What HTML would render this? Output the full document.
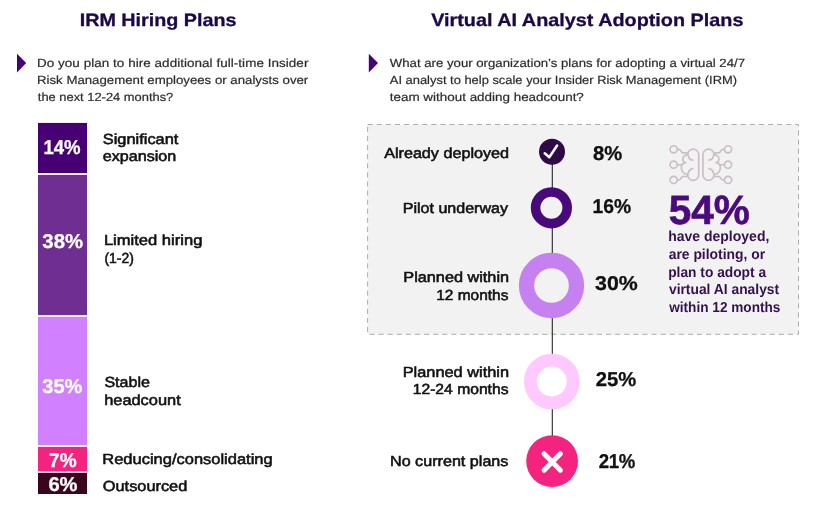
<!DOCTYPE html>
<html><head><meta charset="utf-8"><title>IRM Hiring Plans / Virtual AI Analyst Adoption Plans</title>
<style>
html,body{margin:0;padding:0;background:#fff;}
body{width:822px;height:506px;position:relative;overflow:hidden;font-family:"Liberation Sans",sans-serif;}
.t{position:absolute;left:0;top:0;white-space:nowrap;transform-origin:0 0;text-rendering:geometricPrecision;font-family:"Liberation Sans",sans-serif;}
.seg{position:absolute;left:38.1px;width:48.9px;}
svg{position:absolute;left:0;top:0;}
</style></head><body>
<!-- stacked bar -->
<div id="barbg" style="position:absolute;left:37.6px;top:121.6px;width:49.9px;height:372px;background:#f6ebfb;"></div>
<div class="seg" style="top:122.5px;height:50.4px;background:#460073;"></div>
<div class="seg" style="top:175.2px;height:139.65px;background:#6f2f92;"></div>
<div class="seg" style="top:316.6px;height:128.35px;background:#d180ff;"></div>
<div class="seg" style="top:446.95px;height:24.15px;background:#f42380;"></div>
<div style="position:absolute;left:37.2px;width:50.6px;top:471.3px;height:1.7px;background:#fbd0e4;"></div>
<div class="seg" style="top:473.2px;height:20.5px;background:#3a061e;"></div>
<svg width="822" height="506" viewBox="0 0 822 506">
  <!-- bullets -->
  <polygon points="17,53.8 26.2,63.1 17,72.4" fill="#46007a"/>
  <polygon points="368.8,53.8 378,63.1 368.8,72.4" fill="#46007a"/>
  <!-- dashed box -->
  <rect x="367.6" y="124.5" width="430.9" height="209.8" fill="#f2f2f2" stroke="#adadad" stroke-width="1" stroke-dasharray="5.1 4"/>
  <!-- connector -->
  <line x1="552.3" y1="152" x2="552.3" y2="461" stroke="#262626" stroke-width="1.1"/>
  <!-- circle 1 check -->
  <circle cx="552" cy="151.8" r="13" fill="#2e0a47"/>
  <polyline points="544.7,153.2 549.3,157.2 557.1,145.5" fill="none" stroke="#fff" stroke-width="2.5" stroke-linecap="round" stroke-linejoin="round"/>
  <!-- circle 2 -->
  <circle cx="551.4" cy="207.8" r="15.8" fill="#f2f2f2" stroke="#480a7a" stroke-width="9.6"/>
  <!-- circle 3 -->
  <circle cx="551.5" cy="285.5" r="25" fill="#f2f2f2" stroke="#c581f0" stroke-width="15.3"/>
  <!-- circle 4 -->
  <circle cx="551.8" cy="381.5" r="21.4" fill="#fff" stroke="#ffc8ff" stroke-width="12.8"/>
  <!-- circle 5 x -->
  <circle cx="552.1" cy="461.1" r="25.9" fill="#f4237f"/>
  <path d="M544.1 453.7 L560.4 470.2 M560.4 453.7 L544.1 470.2" stroke="#fff" stroke-width="5" stroke-linecap="round" fill="none"/>
  <!-- brain icon -->
  <g fill="none" stroke="#cbbec7" stroke-width="1.65" stroke-linecap="round" stroke-linejoin="round">
    <g id="bh"><path d="M698.75,174.79 L698.75,154.65 A5.55,5.55 0 0 0 687.65,154.65 C684.67,154.96 682.40,157.01 682.82,159.58 C683.02,161.43 684.25,162.46 685.69,162.67 C683.12,163.08 681.07,164.93 681.38,168.01 C681.58,171.40 684.15,173.97 687.65,174.79 A5.55,5.55 0 0 0 698.75,174.79 M687.95,153.42 C687.95,157.01 689.80,159.58 692.68,160.10 M692.68,168.63 C690.01,169.24 688.16,171.40 687.95,174.18 M677.47,149.31 L679.73,149.51 L682.40,152.90 L687.54,152.90 M677.47,164.72 L681.79,164.72 M677.47,179.93 L679.73,179.73 L682.40,176.54 L687.54,176.54"/><circle cx="673.67" cy="149.31" r="3.6"/><circle cx="673.67" cy="164.72" r="3.6"/><circle cx="673.67" cy="179.93" r="3.6"/></g>
    <g transform="translate(1401.71,0) scale(-1,1)"><path d="M698.75,174.79 L698.75,154.65 A5.55,5.55 0 0 0 687.65,154.65 C684.67,154.96 682.40,157.01 682.82,159.58 C683.02,161.43 684.25,162.46 685.69,162.67 C683.12,163.08 681.07,164.93 681.38,168.01 C681.58,171.40 684.15,173.97 687.65,174.79 A5.55,5.55 0 0 0 698.75,174.79 M687.95,153.42 C687.95,157.01 689.80,159.58 692.68,160.10 M692.68,168.63 C690.01,169.24 688.16,171.40 687.95,174.18 M677.47,149.31 L679.73,149.51 L682.40,152.90 L687.54,152.90 M677.47,164.72 L681.79,164.72 M677.47,179.93 L679.73,179.73 L682.40,176.54 L687.54,176.54"/><circle cx="673.67" cy="149.31" r="3.6"/><circle cx="673.67" cy="164.72" r="3.6"/><circle cx="673.67" cy="179.93" r="3.6"/></g>
  </g>
</svg>
<div id="txt" style="position:absolute;left:0;top:0;width:822px;height:506px;will-change:transform;">
<div class="t" style="font-size:17.8px;line-height:17.8px;font-weight:700;color:#1c0847;transform:matrix(1.1104,0,0,1,79.65,12);-webkit-text-stroke:0.3px #1c0847;">IRM Hiring Plans</div>
<div class="t" style="font-size:17.8px;line-height:17.8px;font-weight:700;color:#1c0847;transform:matrix(1.1140,0,0,1,431.20,12);-webkit-text-stroke:0.3px #1c0847;">Virtual AI Analyst Adoption Plans</div>
<div class="t" style="font-size:11.8px;line-height:11.8px;font-weight:400;color:#2b2b2b;transform:matrix(1.1400,0,0,1,37.00,58);letter-spacing:0.042px;-webkit-text-stroke:0.2px #2b2b2b;">Do you plan to hire additional full-time Insider</div>
<div class="t" style="font-size:11.8px;line-height:11.8px;font-weight:400;color:#2b2b2b;transform:matrix(1.1212,0,0,1,37.00,75);-webkit-text-stroke:0.2px #2b2b2b;">Risk Management employees or analysts over</div>
<div class="t" style="font-size:11.8px;line-height:11.8px;font-weight:400;color:#2b2b2b;transform:matrix(1.0931,0,0,1,37.80,92);-webkit-text-stroke:0.2px #2b2b2b;">the next 12-24 months?</div>
<div class="t" style="font-size:11.8px;line-height:11.8px;font-weight:400;color:#2b2b2b;transform:matrix(1.1176,0,0,1,389.80,58);-webkit-text-stroke:0.2px #2b2b2b;">What are your organization’s plans for adopting a virtual 24/7</div>
<div class="t" style="font-size:11.8px;line-height:11.8px;font-weight:400;color:#2b2b2b;transform:matrix(1.0942,0,0,1,389.80,75);-webkit-text-stroke:0.2px #2b2b2b;">AI analyst to help scale your Insider Risk Management (IRM)</div>
<div class="t" style="font-size:11.8px;line-height:11.8px;font-weight:400;color:#2b2b2b;transform:matrix(1.1379,0,0,1,389.80,92);-webkit-text-stroke:0.2px #2b2b2b;">team without adding headcount?</div>
<div class="t" style="font-size:20.0px;line-height:20.0px;font-weight:700;color:#ffffff;transform:matrix(0.9300,0,0,1,43.50,138);letter-spacing:-0.134px;-webkit-text-stroke:0.3px #ffffff;">14%</div>
<div class="t" style="font-size:20.0px;line-height:20.0px;font-weight:700;color:#ffffff;transform:matrix(1.0179,0,0,1,42.35,232);-webkit-text-stroke:0.3px #ffffff;">38%</div>
<div class="t" style="font-size:20.0px;line-height:20.0px;font-weight:700;color:#ffffff;transform:matrix(1.0000,0,0,1,42.35,377);-webkit-text-stroke:0.3px #ffffff;">35%</div>
<div class="t" style="font-size:20.0px;line-height:20.0px;font-weight:700;color:#ffffff;transform:matrix(0.9514,0,0,1,49.05,451);-webkit-text-stroke:0.3px #ffffff;">7%</div>
<div class="t" style="font-size:20.0px;line-height:20.0px;font-weight:700;color:#ffffff;transform:matrix(1.0072,0,0,1,48.40,475);-webkit-text-stroke:0.3px #ffffff;">6%</div>
<div class="t" style="font-size:14.6px;line-height:14.6px;font-weight:400;color:#111111;transform:matrix(1.1224,0,0,1,102.80,133);-webkit-text-stroke:0.55px #111111;">Significant</div>
<div class="t" style="font-size:14.6px;line-height:14.6px;font-weight:400;color:#111111;transform:matrix(1.1046,0,0,1,102.80,150);-webkit-text-stroke:0.55px #111111;">expansion</div>
<div class="t" style="font-size:14.6px;line-height:14.6px;font-weight:400;color:#111111;transform:matrix(1.1343,0,0,1,103.90,234);-webkit-text-stroke:0.55px #111111;">Limited hiring</div>
<div class="t" style="font-size:14.6px;line-height:14.6px;font-weight:400;color:#111111;transform:matrix(0.9544,0,0,1,104.40,252);-webkit-text-stroke:0.55px #111111;">(1-2)</div>
<div class="t" style="font-size:14.6px;line-height:14.6px;font-weight:400;color:#111111;transform:matrix(1.1006,0,0,1,104.40,376);-webkit-text-stroke:0.55px #111111;">Stable</div>
<div class="t" style="font-size:14.6px;line-height:14.6px;font-weight:400;color:#111111;transform:matrix(1.1233,0,0,1,104.15,394);-webkit-text-stroke:0.55px #111111;">headcount</div>
<div class="t" style="font-size:14.6px;line-height:14.6px;font-weight:400;color:#111111;transform:matrix(1.1290,0,0,1,102.30,453);-webkit-text-stroke:0.55px #111111;">Reducing/consolidating</div>
<div class="t" style="font-size:14.6px;line-height:14.6px;font-weight:400;color:#111111;transform:matrix(1.1192,0,0,1,102.80,480);-webkit-text-stroke:0.55px #111111;">Outsourced</div>
<div class="t" style="font-size:14.6px;line-height:14.6px;font-weight:400;color:#111111;transform:matrix(1.1071,0,0,1,384.15,147);-webkit-text-stroke:0.55px #111111;">Already deployed</div>
<div class="t" style="font-size:14.6px;line-height:14.6px;font-weight:400;color:#111111;transform:matrix(1.0998,0,0,1,402.70,202);-webkit-text-stroke:0.55px #111111;">Pilot underway</div>
<div class="t" style="font-size:14.6px;line-height:14.6px;font-weight:400;color:#111111;transform:matrix(1.1142,0,0,1,403.30,271);-webkit-text-stroke:0.55px #111111;">Planned within</div>
<div class="t" style="font-size:14.6px;line-height:14.6px;font-weight:400;color:#111111;transform:matrix(1.0597,0,0,1,436.20,289);-webkit-text-stroke:0.55px #111111;">12 months</div>
<div class="t" style="font-size:14.6px;line-height:14.6px;font-weight:400;color:#111111;transform:matrix(1.1203,0,0,1,402.70,366);-webkit-text-stroke:0.55px #111111;">Planned within</div>
<div class="t" style="font-size:14.6px;line-height:14.6px;font-weight:400;color:#111111;transform:matrix(1.0737,0,0,1,412.70,383);-webkit-text-stroke:0.55px #111111;">12-24 months</div>
<div class="t" style="font-size:14.6px;line-height:14.6px;font-weight:400;color:#111111;transform:matrix(1.1059,0,0,1,390.00,455);-webkit-text-stroke:0.55px #111111;">No current plans</div>
<div class="t" style="font-size:20.0px;line-height:20.0px;font-weight:700;color:#111111;transform:matrix(1.0107,0,0,1,593.00,144);-webkit-text-stroke:0.3px #111111;">8%</div>
<div class="t" style="font-size:20.0px;line-height:20.0px;font-weight:700;color:#111111;transform:matrix(0.9639,0,0,1,592.50,197);-webkit-text-stroke:0.3px #111111;">16%</div>
<div class="t" style="font-size:20.0px;line-height:20.0px;font-weight:700;color:#111111;transform:matrix(1.0663,0,0,1,595.05,274);-webkit-text-stroke:0.3px #111111;">30%</div>
<div class="t" style="font-size:20.0px;line-height:20.0px;font-weight:700;color:#111111;transform:matrix(1.0116,0,0,1,595.70,370);-webkit-text-stroke:0.3px #111111;">25%</div>
<div class="t" style="font-size:20.0px;line-height:20.0px;font-weight:700;color:#111111;transform:matrix(0.9300,0,0,1,598.70,452);letter-spacing:-0.403px;-webkit-text-stroke:0.3px #111111;">21%</div>
<div class="t" style="font-size:40.8px;line-height:40.8px;font-weight:700;color:#4b0a7d;transform:matrix(0.9919,0,0,1,668.85,190);-webkit-text-stroke:0.7px #4b0a7d;">54%</div>
<div class="t" style="font-size:14.4px;line-height:14.4px;font-weight:700;color:#35104f;transform:matrix(0.9726,0,0,1,668.20,230);">have deployed,</div>
<div class="t" style="font-size:14.4px;line-height:14.4px;font-weight:700;color:#35104f;transform:matrix(0.9643,0,0,1,668.70,248);">are piloting, or</div>
<div class="t" style="font-size:14.4px;line-height:14.4px;font-weight:700;color:#35104f;transform:matrix(0.9566,0,0,1,668.20,266);">plan to adopt a</div>
<div class="t" style="font-size:14.4px;line-height:14.4px;font-weight:700;color:#35104f;transform:matrix(0.9611,0,0,1,668.95,283);">virtual AI analyst</div>
<div class="t" style="font-size:14.4px;line-height:14.4px;font-weight:700;color:#35104f;transform:matrix(0.9462,0,0,1,669.20,301);">within 12 months</div>
</div>
</body></html>
